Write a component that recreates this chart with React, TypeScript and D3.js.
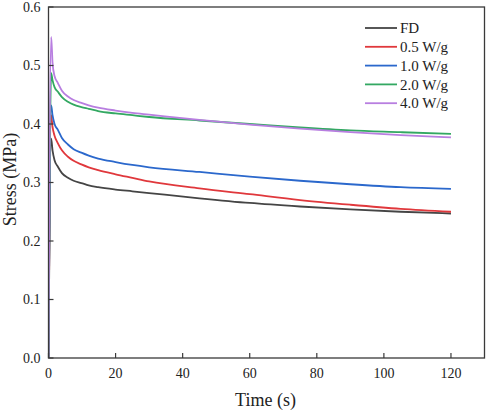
/**
 * Stress relaxation curves. Stress (MPa) vs time (s) for five microwave power levels.
 * Boxed frame, inward ticks on left/bottom only, legend top-right without border.
 */
import React, { useRef, useEffect } from 'react';
import * as d3 from 'd3';

const WIDTH = 487;
const HEIGHT = 412;
const MARGIN = { top: 7, right: 2.5, bottom: 54, left: 48.5 };

const FONT = '"Liberation Serif", "Times New Roman", serif';
const AXIS_COLOR = '#3a3a3a';

const times = [0, 0.8, 1.2, 1.8, 2.8, 4, 5.8, 7.5, 9.8, 12, 14.8, 20, 25, 30, 45, 60, 75, 90, 105, 120];

const seriesNames = ['FD', '0.5 W/g', '1.0 W/g', '2.0 W/g', '4.0 W/g'];
const seriesColors = ['#454545', '#e0383c', '#2b68cc', '#33a862', '#b87ee0'];

const fdStress = [0, 0.375, 0.355, 0.338, 0.327, 0.316, 0.308, 0.303, 0.299, 0.295, 0.292, 0.288, 0.285, 0.282, 0.273, 0.265, 0.259, 0.254, 0.25, 0.247];
const w05Stress = [0, 0.415, 0.395, 0.38, 0.367, 0.355, 0.344, 0.337, 0.331, 0.326, 0.321, 0.314, 0.308, 0.302, 0.29, 0.28, 0.27, 0.262, 0.255, 0.25];
const w10Stress = [0, 0.432, 0.415, 0.4, 0.39, 0.376, 0.365, 0.357, 0.351, 0.346, 0.341, 0.335, 0.33, 0.326, 0.318, 0.31, 0.303, 0.297, 0.292, 0.289];
const w20Stress = [0, 0.487, 0.475, 0.463, 0.455, 0.446, 0.438, 0.433, 0.429, 0.426, 0.422, 0.418, 0.415, 0.412, 0.406, 0.4, 0.394, 0.389, 0.386, 0.383];
const w40Stress = [0, 0.549, 0.505, 0.482, 0.47, 0.457, 0.447, 0.441, 0.436, 0.432, 0.428, 0.423, 0.419, 0.416, 0.407, 0.399, 0.392, 0.386, 0.381, 0.377];

const allStress = [fdStress, w05Stress, w10Stress, w20Stress, w40Stress];

const xTicks = [0, 20, 40, 60, 80, 100, 120];
const yTicks = [0, 0.1, 0.2, 0.3, 0.4, 0.5, 0.6];

const StressChart: React.FC = () => {
  const svgRef = useRef<SVGSVGElement>(null);

  useEffect(() => {
    if (!svgRef.current) return;
    const svg = d3.select(svgRef.current);
    svg.selectAll('*').remove();

    const x0 = MARGIN.left;
    const x1 = WIDTH - MARGIN.right;
    const y0 = HEIGHT - MARGIN.bottom;
    const y1 = MARGIN.top;

    const x = d3.scaleLinear().domain([0, 130]).range([x0, x1]);
    const y = d3.scaleLinear().domain([0, 0.6]).range([y0, y1]);

    // curves
    const line = d3
      .line<number>()
      .x((_, i) => x(times[i]))
      .y((d) => y(d))
      .curve(d3.curveMonotoneX);

    const clip = svg.append('clipPath').attr('id', 'plot-clip');
    clip.append('rect').attr('x', x0).attr('y', y1).attr('width', x1 - x0).attr('height', y0 - y1);

    const curves = svg.append('g').attr('clip-path', 'url(#plot-clip)');
    allStress.forEach((vals, k) => {
      curves
        .append('path')
        .attr('d', line(vals) ?? '')
        .attr('fill', 'none')
        .attr('stroke', seriesColors[k])
        .attr('stroke-width', 1.8)
        .attr('stroke-linejoin', 'round');
    });

    // frame
    svg
      .append('rect')
      .attr('x', x0)
      .attr('y', y1)
      .attr('width', x1 - x0)
      .attr('height', y0 - y1)
      .attr('fill', 'none')
      .attr('stroke', AXIS_COLOR)
      .attr('stroke-width', 1.3);

    // x ticks (inward)
    xTicks.forEach((t) => {
      svg
        .append('line')
        .attr('x1', x(t))
        .attr('x2', x(t))
        .attr('y1', y0)
        .attr('y2', y0 - 5)
        .attr('stroke', AXIS_COLOR)
        .attr('stroke-width', 1.2);
      svg
        .append('text')
        .attr('x', x(t))
        .attr('y', y0 + 20)
        .attr('text-anchor', 'middle')
        .attr('fill', '#222')
        .attr('font-size', '14px')
        .attr('font-family', FONT)
        .text(String(t));
    });

    // y ticks (inward)
    yTicks.forEach((v) => {
      svg
        .append('line')
        .attr('x1', x0)
        .attr('x2', x0 + 5)
        .attr('y1', y(v))
        .attr('y2', y(v))
        .attr('stroke', AXIS_COLOR)
        .attr('stroke-width', 1.2);
      svg
        .append('text')
        .attr('x', x0 - 8)
        .attr('y', y(v))
        .attr('dy', '0.35em')
        .attr('text-anchor', 'end')
        .attr('fill', '#222')
        .attr('font-size', '14px')
        .attr('font-family', FONT)
        .text(v.toFixed(1));
    });

    // axis titles
    svg
      .append('text')
      .attr('x', (x0 + x1) / 2 - 1)
      .attr('y', 406)
      .attr('text-anchor', 'middle')
      .attr('fill', '#222')
      .attr('font-size', '18px')
      .attr('font-family', FONT)
      .text('Time (s)');

    svg
      .append('text')
      .attr('transform', `translate(16, ${(y0 + y1) / 2 - 3}) rotate(-90)`)
      .attr('text-anchor', 'middle')
      .attr('fill', '#222')
      .attr('font-size', '18px')
      .attr('font-family', FONT)
      .text('Stress (MPa)');

    // legend
    const legendX = 365;
    const legendY = 28;
    const rowH = 18.8;
    seriesNames.forEach((name, k) => {
      const ly = legendY + k * rowH;
      svg
        .append('line')
        .attr('x1', legendX)
        .attr('x2', legendX + 32)
        .attr('y1', ly)
        .attr('y2', ly)
        .attr('stroke', seriesColors[k])
        .attr('stroke-width', 1.8);
      svg
        .append('text')
        .attr('x', legendX + 35)
        .attr('y', ly)
        .attr('dy', '0.35em')
        .attr('fill', '#222')
        .attr('font-size', '15px')
        .attr('font-family', FONT)
        .text(name);
    });
  }, []);

  return (
    <svg
      ref={svgRef}
      width={WIDTH}
      height={HEIGHT}
      viewBox={`0 0 ${WIDTH} ${HEIGHT}`}
      style={{ position: 'absolute', left: 0, top: 0, background: '#fff' }}
    />
  );
};

export default function App() {
  return <StressChart />;
}
